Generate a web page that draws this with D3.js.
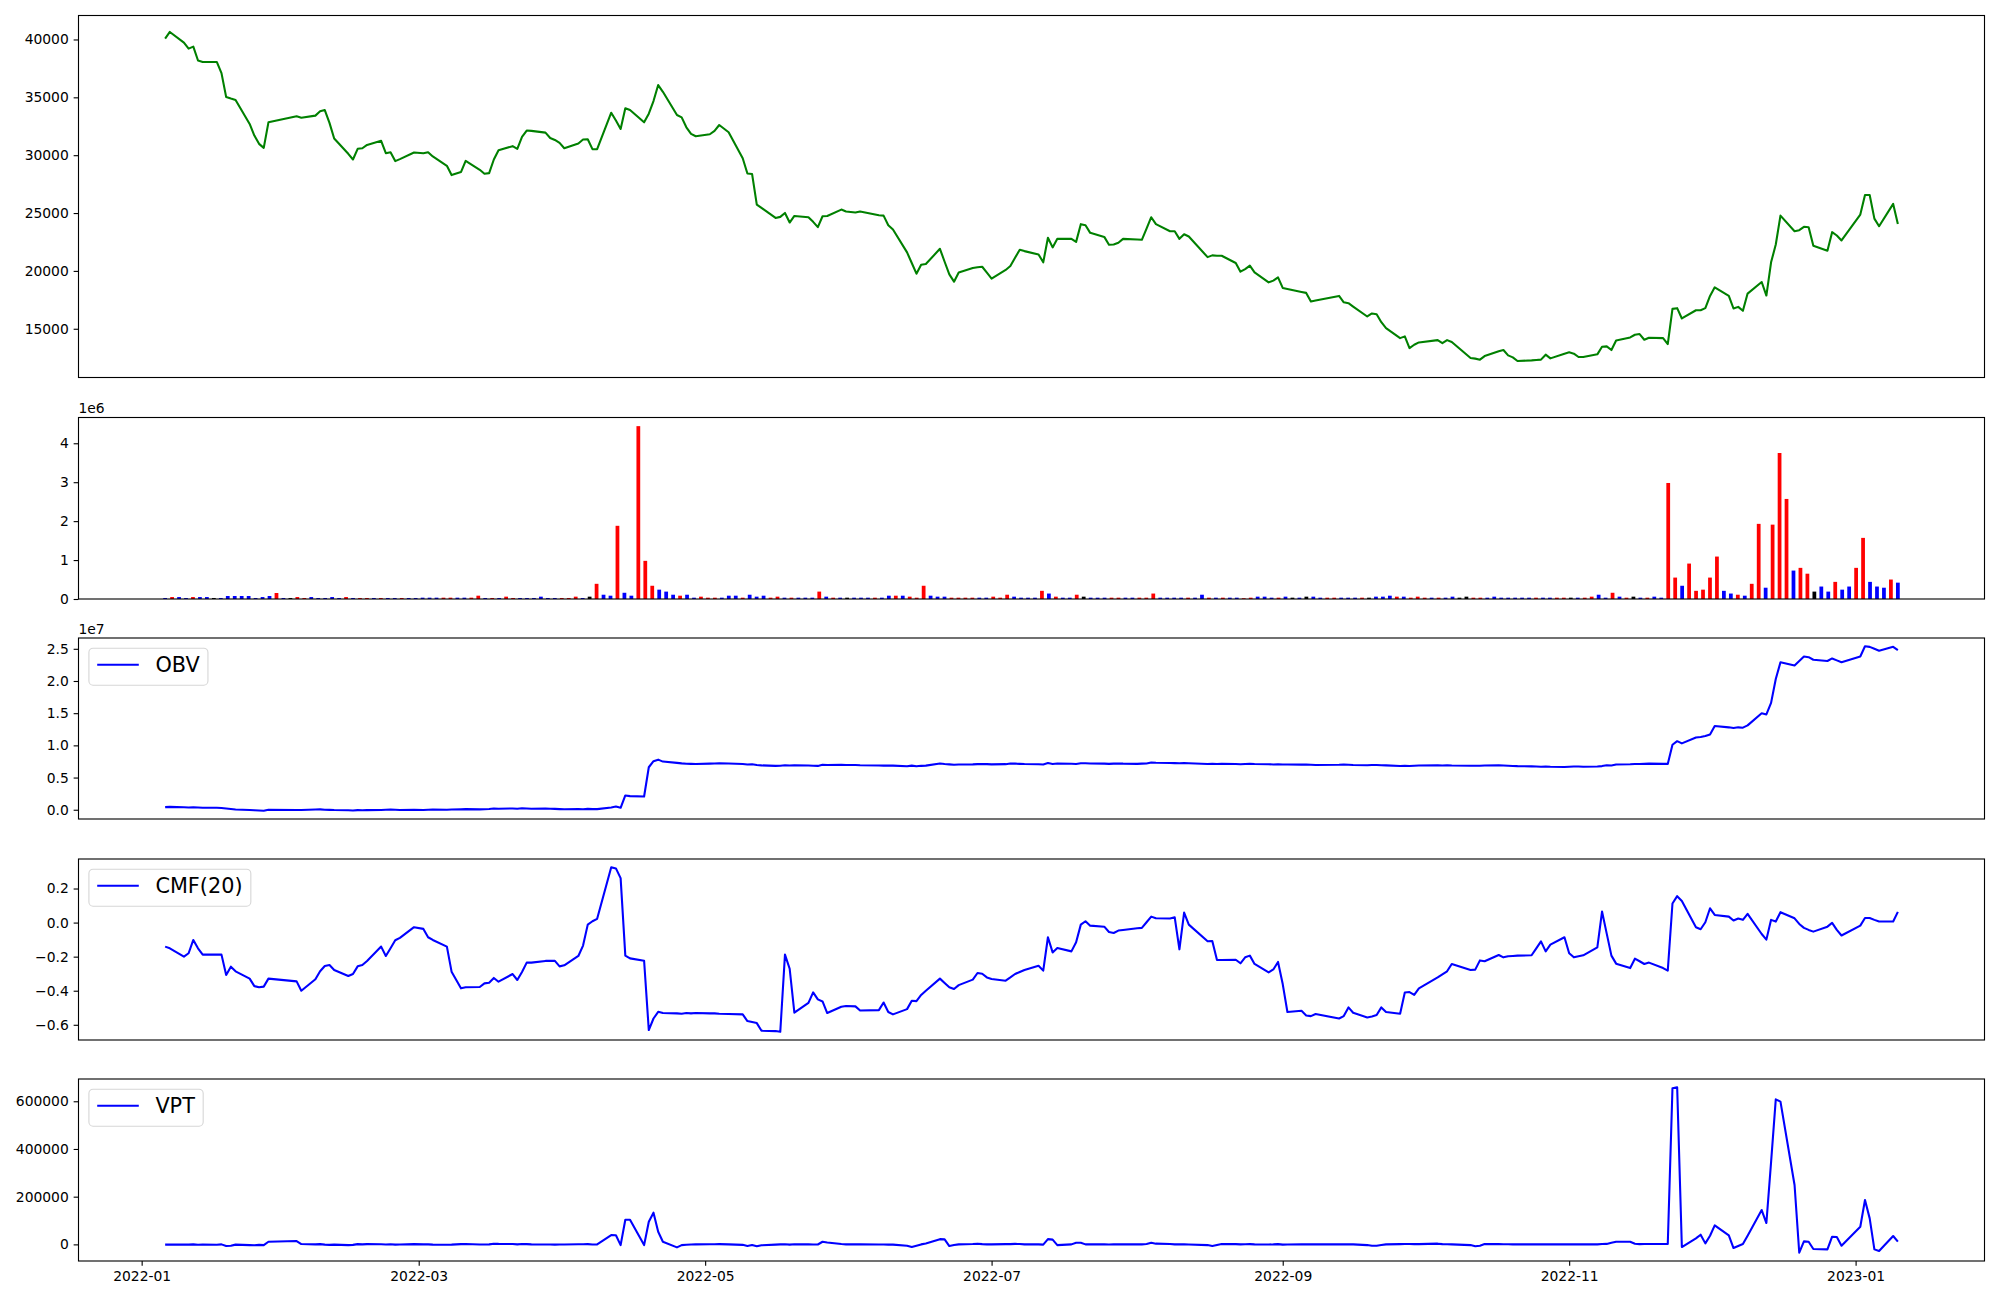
<!DOCTYPE html>
<html><head><meta charset="utf-8">
<script src="https://cdn.jsdelivr.net/npm/d3@7"></script>
<style>body{margin:0;background:#fff}svg{display:block}text{font-family:"DejaVu Sans",sans-serif}</style>
</head><body>
<svg id="chart" width="2000" height="1300"></svg>
<script>
// ---------- DATA ----------
const firstDate = "2022-01-06", lastDate = "2023-01-10";
const holidays = ["2022-01-31","2022-02-01","2022-02-02","2022-03-01","2022-03-09","2022-05-05","2022-06-01","2022-06-06","2022-08-15","2022-09-09","2022-09-12","2022-10-03","2022-10-10","2022-12-30"];

const price = [
40070,40650,39730,39210,39380,38180,38060,38060,37090,35020,
34890,34770,32700,31700,30980,30630,32840,33360,33240,33420,
33790,33900,32790,31440,30120,29630,30550,30600,30890,31240,
30170,30260,29490,29660,30230,30170,30260,29890,29080,28280,
28540,29510,28740,28400,28450,29630,30430,30780,30550,31580,
32130,32100,31950,31490,31320,31060,30600,31010,31350,31380,
30520,30520,33670,32990,32270,34050,33900,32840,33590,34680,
36060,35480,33470,33270,32410,31840,31640,31810,32100,32610,
31980,29740,28420,28370,25730,25440,24580,24670,25010,24180,
24750,24640,24240,23780,24720,24750,25300,25130,25040,25130,
24810,24780,23950,23580,21600,20680,19760,20530,20590,21910,
20790,19700,19070,19870,20250,20310,20360,19850,19330,20080,
20420,21140,21830,21710,21420,20740,22860,22030,22770,22770,
22510,24040,23950,23290,22940,22260,22280,22430,22770,22720,
22690,23660,24640,24040,23430,23430,22770,23170,22970,21190,
21340,21310,21310,20680,19930,20160,20450,19870,19010,19160,
19440,18530,18440,18180,18100,17350,17440,17840,17290,17210,
16920,16060,16320,16260,15570,15050,14190,14340,13330,13620,
13820,14020,13760,14020,13850,12470,12420,12330,12640,13050,
13160,12700,12530,12210,12270,12300,12330,12760,12440,12850,
12960,12850,12560,12560,12790,13450,13480,13160,13990,14250,
14480,14540,14050,14220,14190,13680,16720,16780,15890,16600,
16600,16780,17840,18580,17840,16750,16890,16550,18040,19040,
17870,20740,22280,24780,23430,23520,23810,23780,22170,21740,
23350,23060,22630,24870,26560,26560,24520,23860,25790,24060];

// volume in millions of shares
const volumeM = [
0.026,0.05,0.05,0.026,0.05,0.05,0.05,0.026,0.026,0.077,
0.077,0.077,0.077,0.026,0.05,0.077,0.154,0.026,0.026,0.05,
0.026,0.05,0.026,0.026,0.05,0.026,0.05,0.026,0.026,0.026,
0.026,0.026,0.026,0.026,0.026,0.026,0.026,0.034,0.034,0.034,
0.034,0.034,0.034,0.034,0.034,0.085,0.026,0.026,0.026,0.06,
0.026,0.026,0.026,0.026,0.06,0.026,0.026,0.026,0.026,0.06,
0.026,0.06,0.39,0.11,0.085,1.88,0.16,0.085,4.44,0.98,
0.34,0.24,0.19,0.11,0.085,0.11,0.034,0.06,0.034,0.034,
0.034,0.085,0.085,0.034,0.11,0.06,0.085,0.034,0.06,0.034,
0.034,0.034,0.034,0.034,0.19,0.06,0.034,0.034,0.034,0.034,
0.034,0.034,0.034,0.034,0.085,0.085,0.085,0.06,0.034,0.34,
0.085,0.06,0.06,0.034,0.034,0.034,0.034,0.034,0.034,0.06,
0.034,0.11,0.06,0.034,0.034,0.034,0.21,0.14,0.06,0.034,
0.034,0.11,0.06,0.034,0.034,0.034,0.034,0.034,0.034,0.034,
0.034,0.034,0.14,0.034,0.034,0.034,0.034,0.034,0.034,0.11,
0.034,0.034,0.034,0.034,0.034,0.02,0.034,0.06,0.06,0.034,
0.034,0.06,0.034,0.034,0.06,0.06,0.034,0.034,0.034,0.034,
0.034,0.034,0.034,0.034,0.06,0.06,0.085,0.06,0.06,0.034,
0.06,0.034,0.034,0.034,0.034,0.06,0.034,0.06,0.034,0.034,
0.034,0.06,0.034,0.034,0.034,0.034,0.034,0.034,0.034,0.034,
0.034,0.034,0.034,0.034,0.034,0.06,0.11,0.034,0.16,0.06,
0.034,0.06,0.034,0.034,0.06,0.034,2.98,0.55,0.34,0.91,
0.21,0.24,0.55,1.09,0.21,0.14,0.11,0.085,0.39,1.93,
0.29,1.91,3.75,2.57,0.73,0.80,0.65,0.19,0.32,0.19,
0.44,0.24,0.32,0.80,1.57,0.44,0.32,0.29,0.50,0.42];

// bar colour codes: r = up, b = down, k = unchanged
const volumeColorCodes = [
"brbbrbbkbb","bbbbbbrbkr","rbbbbbrbrr","brbbrbbbbb","rrbbrrbrbr",
"rbbbbbbrrr","bkrbbrbbrr","rbbbrbbrrr","bbbrbbbrrb","rbbbrbrbkb",
"bbrbbrbrrr","bbbrrrrbbr","rrbbbbrbrb","brkbbbrrbb","rrrbbbbrbb",
"rbrbbrrbbb","rbkbkbbrrb","bbrkbbbrbr","rrbrbbkkrr","bbbbbbbrbb",
"rrkbrrbbrb","rkbrbbrrbr","rrrrbbrbrr","brrrbrrkbb","rbbrrbbbrb"].join("");

// OBV in units of 1e7
const obvE7 = [
0.041,0.045,0.040,0.036,0.040,0.035,0.030,0.030,0.027,0.019,
0.011,0.003,-0.005,-0.008,-0.012,-0.016,0.000,-0.003,-0.003,0.003,
0.006,0.001,-0.002,-0.005,-0.008,-0.011,-0.006,-0.009,-0.006,-0.003,
0.000,0.003,0.000,-0.003,0.000,-0.003,0.000,0.002,0.000,0.003,
0.006,0.009,0.006,0.008,0.011,0.019,0.016,0.019,0.016,0.022,
0.019,0.016,0.019,0.016,0.013,0.010,0.007,0.010,0.007,0.013,
0.010,0.010,0.035,0.050,0.030,0.222,0.212,0.206,0.660,0.755,
0.778,0.748,0.728,0.720,0.714,0.712,0.711,0.716,0.719,0.722,
0.719,0.711,0.703,0.706,0.695,0.689,0.681,0.684,0.690,0.687,
0.690,0.687,0.684,0.681,0.700,0.694,0.697,0.694,0.694,0.691,
0.688,0.685,0.688,0.685,0.676,0.685,0.676,0.682,0.685,0.719,
0.711,0.705,0.699,0.702,0.705,0.708,0.711,0.708,0.705,0.708,
0.719,0.716,0.713,0.710,0.707,0.704,0.725,0.711,0.717,0.714,
0.711,0.722,0.722,0.719,0.716,0.713,0.716,0.719,0.716,0.713,
0.716,0.719,0.733,0.730,0.727,0.724,0.721,0.724,0.721,0.710,
0.713,0.710,0.713,0.710,0.707,0.710,0.713,0.710,0.707,0.704,
0.707,0.704,0.704,0.701,0.701,0.698,0.695,0.698,0.701,0.698,
0.695,0.692,0.695,0.695,0.692,0.689,0.680,0.683,0.680,0.683,
0.686,0.689,0.686,0.689,0.686,0.683,0.683,0.683,0.686,0.689,
0.686,0.683,0.680,0.677,0.674,0.671,0.668,0.671,0.668,0.665,
0.668,0.671,0.671,0.668,0.672,0.678,0.690,0.687,0.703,0.706,
0.710,0.710,0.713,0.716,0.713,0.712,1.010,1.065,1.031,1.122,
1.130,1.145,1.170,1.300,1.280,1.270,1.280,1.275,1.310,1.500,
1.480,1.660,2.030,2.290,2.240,2.310,2.380,2.370,2.330,2.310,
2.350,2.320,2.290,2.380,2.540,2.530,2.500,2.470,2.530,2.480];

// Chaikin money flow (20)
const cmf20 = [
-0.141,-0.151,-0.200,-0.180,-0.102,-0.151,-0.188,-0.188,-0.188,-0.308,
-0.259,-0.286,-0.329,-0.373,-0.380,-0.376,-0.329,-0.345,-0.400,-0.333,
-0.286,-0.255,-0.249,-0.278,-0.314,-0.302,-0.257,-0.249,-0.225,-0.141,
-0.196,-0.151,-0.104,-0.090,-0.027,-0.037,-0.086,-0.102,-0.141,-0.288,
-0.386,-0.380,-0.378,-0.357,-0.353,-0.325,-0.347,-0.302,-0.337,-0.290,
-0.235,-0.235,-0.225,-0.224,-0.225,-0.257,-0.251,-0.196,-0.135,-0.012,
0.008,0.022,0.325,0.318,0.261,-0.194,-0.210,-0.224,-0.631,-0.563,
-0.524,-0.531,-0.533,-0.535,-0.531,-0.533,-0.531,-0.533,-0.533,-0.535,
-0.537,-0.539,-0.578,-0.584,-0.590,-0.635,-0.637,-0.641,-0.188,-0.271,
-0.529,-0.471,-0.410,-0.451,-0.463,-0.531,-0.494,-0.490,-0.492,-0.516,
-0.514,-0.469,-0.525,-0.539,-0.508,-0.459,-0.461,-0.425,-0.400,-0.329,
-0.355,-0.380,-0.390,-0.367,-0.335,-0.296,-0.300,-0.322,-0.331,-0.341,
-0.322,-0.302,-0.290,-0.278,-0.253,-0.282,-0.086,-0.175,-0.149,-0.169,
-0.116,-0.012,0.008,-0.018,-0.024,-0.055,-0.061,-0.047,-0.043,-0.033,
-0.031,0.002,0.035,0.025,0.024,0.031,-0.157,0.059,-0.012,-0.110,
-0.108,-0.220,-0.220,-0.218,-0.239,-0.204,-0.194,-0.243,-0.292,-0.275,
-0.231,-0.361,-0.525,-0.518,-0.545,-0.549,-0.537,-0.563,-0.549,-0.498,
-0.529,-0.557,-0.551,-0.543,-0.498,-0.525,-0.535,-0.410,-0.408,-0.424,
-0.386,-0.322,-0.304,-0.286,-0.243,-0.278,-0.276,-0.222,-0.227,-0.190,
-0.204,-0.198,-0.196,-0.194,-0.192,-0.151,-0.110,-0.169,-0.129,-0.086,
-0.180,-0.204,-0.198,-0.192,-0.145,0.065,-0.065,-0.194,-0.241,-0.267,
-0.212,-0.227,-0.243,-0.235,-0.267,-0.282,0.112,0.155,0.127,-0.027,
-0.039,0.002,0.084,0.045,0.035,0.012,0.024,0.016,0.051,-0.067,
-0.100,0.016,0.006,0.061,0.025,-0.008,-0.031,-0.043,-0.053,-0.024,
-0.002,-0.043,-0.076,-0.018,0.027,0.027,0.016,0.006,0.006,0.063];

// VPT in thousands
const vptK = [
-1,-0.5,-1,-1,0,-1.5,-0.5,-1.5,0,-7,
-6,-1,-3,-4,-2,-3,11,14,1.4,0,
1,-1,-2,-1,-3,-2,1,0,1,0.5,
-0.5,0.5,-1,-0.5,1,0,0,-1,-1.5,-1,
1,1.5,-0.5,-0.5,0,3,2,1.5,0,1.5,
1,0,-0.5,-0.5,-1,-0.5,-0.5,0.5,0.5,1,
-0.5,0,39,38,-3,103,103,-3,95,133,
53,11,-12.6,-3,-1.4,-0.5,0,0.5,0.5,1,
0,-2,-7,-3,-8,-4,-1,0,0.5,-1,
0.5,0,-0.5,-0.5,11,8,1.4,0,0,0,
-0.5,-0.5,-1,-1,-5.6,-11,-5.6,0,4,22,
21,-7,-3,0,1.4,3,1,0,0,1,
1,2,1.5,0,0,-1,22,20,-3,0,
7,7,0,0,0,-0.5,0,0,0.5,0,
0,1.5,7,3,1.5,0,0,0,-0.5,-3,
-7,-3,1.4,1,0,0.5,1,0,-0.5,0,
1,-1,-0.5,0,0,0,0.5,0,0,0,
0,-3,-6,-6,-3,0,1,1.5,1.5,1,
1,3,1,0.5,0,-3,-8,-5.6,1.4,1,
0.5,0.5,0,0,0,0.5,0,0,0,0,
0,0.5,0,0,0,1.5,2,7,11,11,
3,1,1.5,1.5,1.4,1.4,654.5,658.7,-11.2,25.2,
40.6,4.2,36,79.7,37.8,-15.4,-7,1.4,36,144,
89.5,345,608,598.6,249,-35,12.6,11.2,-19.6,-21,
32.2,30.8,-5.6,74,186,109,-21,-28,35,11.2];

const xTickLabels = ["2022-01","2022-03","2022-05","2022-07","2022-09","2022-11","2023-01"];
const priceTicks = [15000,20000,25000,30000,35000,40000];
const volumeTicks = [0,1,2,3,4];          // x 1e6
const obvTicks = [0.0,0.5,1.0,1.5,2.0,2.5]; // x 1e7
const cmfTicks = [-0.6,-0.4,-0.2,0.0,0.2];
const vptTicks = [0,200000,400000,600000];
const colorMap = {r:"#ff0000", b:"#0000ff", k:"#000000"};

// ---------- LAYOUT ----------
const axLeft = 78.5, axRight = 1984.5;
const panels = [
  {top:15.5, bottom:377.5},
  {top:417.5, bottom:599},
  {top:638, bottom:819},
  {top:859, bottom:1040},
  {top:1079, bottom:1261}
];
const FS = 13.89, TICK = 4.86, LW = 2.08, SPINE = 1.11, LEGFS = 20.8;

const parse = d3.utcParse("%Y-%m-%d");
const fmtDay = d3.utcFormat("%Y-%m-%d");
const hol = new Set(holidays);
const t0 = parse(firstDate), t1 = parse(lastDate);
const dates = d3.utcDays(t0, d3.utcDay.offset(t1, 1)).filter(d => {
  const w = d.getUTCDay(); return w !== 0 && w !== 6 && !hol.has(fmtDay(d));
});
const N = dates.length;
const span = t1 - t0;
const x = d3.scaleUtc()
  .domain([new Date(+t0 - 0.05 * span), new Date(+t1 + 0.05 * span)])
  .range([axLeft, axRight]);
const xTicks = xTickLabels.map(s => d3.utcParse("%Y-%m")(s));

const svg = d3.select("#chart");
svg.append("rect").attr("width", 2000).attr("height", 1300).attr("fill", "#fff");

function pad(domain) {
  const [a, b] = domain; const r = b - a; return [a - 0.05 * r, b + 0.05 * r];
}
const minus = s => s.replace("-", "\u2212");

function makePanel(p, yDomain, ticks, fmt, showXAxis) {
  const y = d3.scaleLinear().domain(yDomain).range([p.bottom, p.top]);
  const g = svg.append("g");
  const ya = g.append("g").attr("transform", `translate(${axLeft},0)`)
    .call(d3.axisLeft(y).tickValues(ticks).tickFormat(fmt).tickSize(TICK).tickPadding(TICK));
  ya.select(".domain").remove();
  ya.selectAll("line").attr("stroke-width", SPINE);
  ya.selectAll("text").attr("font-size", FS).attr("font-family", "DejaVu Sans").attr("fill", "#000");
  if (showXAxis) {
    const xa = g.append("g").attr("transform", `translate(0,${p.bottom})`)
      .call(d3.axisBottom(x).tickValues(xTicks).tickFormat(d3.utcFormat("%Y-%m")).tickSize(TICK).tickPadding(TICK));
    xa.select(".domain").remove();
    xa.selectAll("line").attr("stroke-width", SPINE);
    xa.selectAll("text").attr("font-size", FS).attr("font-family", "DejaVu Sans").attr("fill", "#000");
  }
  const content = g.append("g");
  return {y, g, content};
}
function frame(g, p) {
  g.append("rect").attr("x", axLeft).attr("y", p.top)
    .attr("width", axRight - axLeft).attr("height", p.bottom - p.top)
    .attr("fill", "none").attr("stroke", "#000").attr("stroke-width", SPINE);
}
function drawLine(content, y, vals, color) {
  content.append("path")
    .attr("d", d3.line().x((d, i) => x(dates[i])).y(d => y(d))(vals))
    .attr("fill", "none").attr("stroke", color).attr("stroke-width", LW)
    .attr("stroke-linejoin", "round");
}
function legend(g, p, label) {
  const lg = g.append("g");
  const bx = axLeft + 10.4, by = p.top + 10.2;
  const rect = lg.append("rect").attr("x", bx).attr("y", by).attr("height", 37)
    .attr("rx", 4.2).attr("ry", 4.2)
    .attr("fill", "#fff").attr("fill-opacity", 0.8)
    .attr("stroke", "#cccccc").attr("stroke-opacity", 0.8).attr("stroke-width", 1.1);
  const cy = by + 16.5;
  lg.append("line").attr("x1", bx + 8.3).attr("x2", bx + 8.3 + 41.6)
    .attr("y1", cy).attr("y2", cy).attr("stroke", "#0000ff").attr("stroke-width", LW);
  const t = lg.append("text").attr("x", bx + 8.3 + 41.6 + 16.6).attr("y", cy + 7.5)
    .attr("font-size", LEGFS).attr("fill", "#000").text(label);
  const tw = t.node().getComputedTextLength();
  rect.attr("width", 8.3 + 41.6 + 16.6 + tw + 8.3);
}
function offsetText(p, s) {
  svg.append("text").attr("x", axLeft).attr("y", p.top - 4.3)
    .attr("font-size", FS).attr("fill", "#000").text(s);
}

// ---------- PANEL 1: price ----------
{
  const p = panels[0];
  const P = makePanel(p, pad(d3.extent(price)), priceTicks, d => String(d), false);
  drawLine(P.content, P.y, price, "#008000");
  frame(P.g, p);
}
// ---------- PANEL 2: volume bars ----------
{
  const p = panels[1];
  const vol = volumeM.map(v => v * 1e6);
  const P = makePanel(p, [0, d3.max(vol) * 1.05], volumeTicks.map(t => t * 1e6), d => String(d / 1e6), false);
  const step = span / (N - 1);
  const bw = x(new Date(+t0 + 0.8 * 864e5)) - x(t0);
  P.content.selectAll("rect.bar").data(vol).join("rect").attr("class", "bar")
    .attr("x", (d, i) => x(new Date(+t0 + i * step)) - bw / 2)
    .attr("width", bw)
    .attr("y", d => P.y(d))
    .attr("height", d => P.y(0) - P.y(d))
    .attr("fill", (d, i) => colorMap[volumeColorCodes[i]]);
  frame(P.g, p);
  offsetText(p, "1e6");
}
// ---------- PANEL 3: OBV ----------
{
  const p = panels[2];
  const obv = obvE7.map(v => v * 1e7);
  const P = makePanel(p, pad(d3.extent(obv)), obvTicks.map(t => t * 1e7), d => (d / 1e7).toFixed(1), false);
  drawLine(P.content, P.y, obv, "#0000ff");
  frame(P.g, p);
  legend(P.g, p, "OBV");
  offsetText(p, "1e7");
}
// ---------- PANEL 4: CMF ----------
{
  const p = panels[3];
  const P = makePanel(p, pad(d3.extent(cmf20)), cmfTicks, d => minus(d.toFixed(1)), false);
  drawLine(P.content, P.y, cmf20, "#0000ff");
  frame(P.g, p);
  legend(P.g, p, "CMF(20)");
}
// ---------- PANEL 5: VPT ----------
{
  const p = panels[4];
  const vpt = vptK.map(v => v * 1000);
  const P = makePanel(p, pad(d3.extent(vpt)), vptTicks, d => String(d), true);
  drawLine(P.content, P.y, vpt, "#0000ff");
  frame(P.g, p);
  legend(P.g, p, "VPT");
}
</script>
</body></html>
